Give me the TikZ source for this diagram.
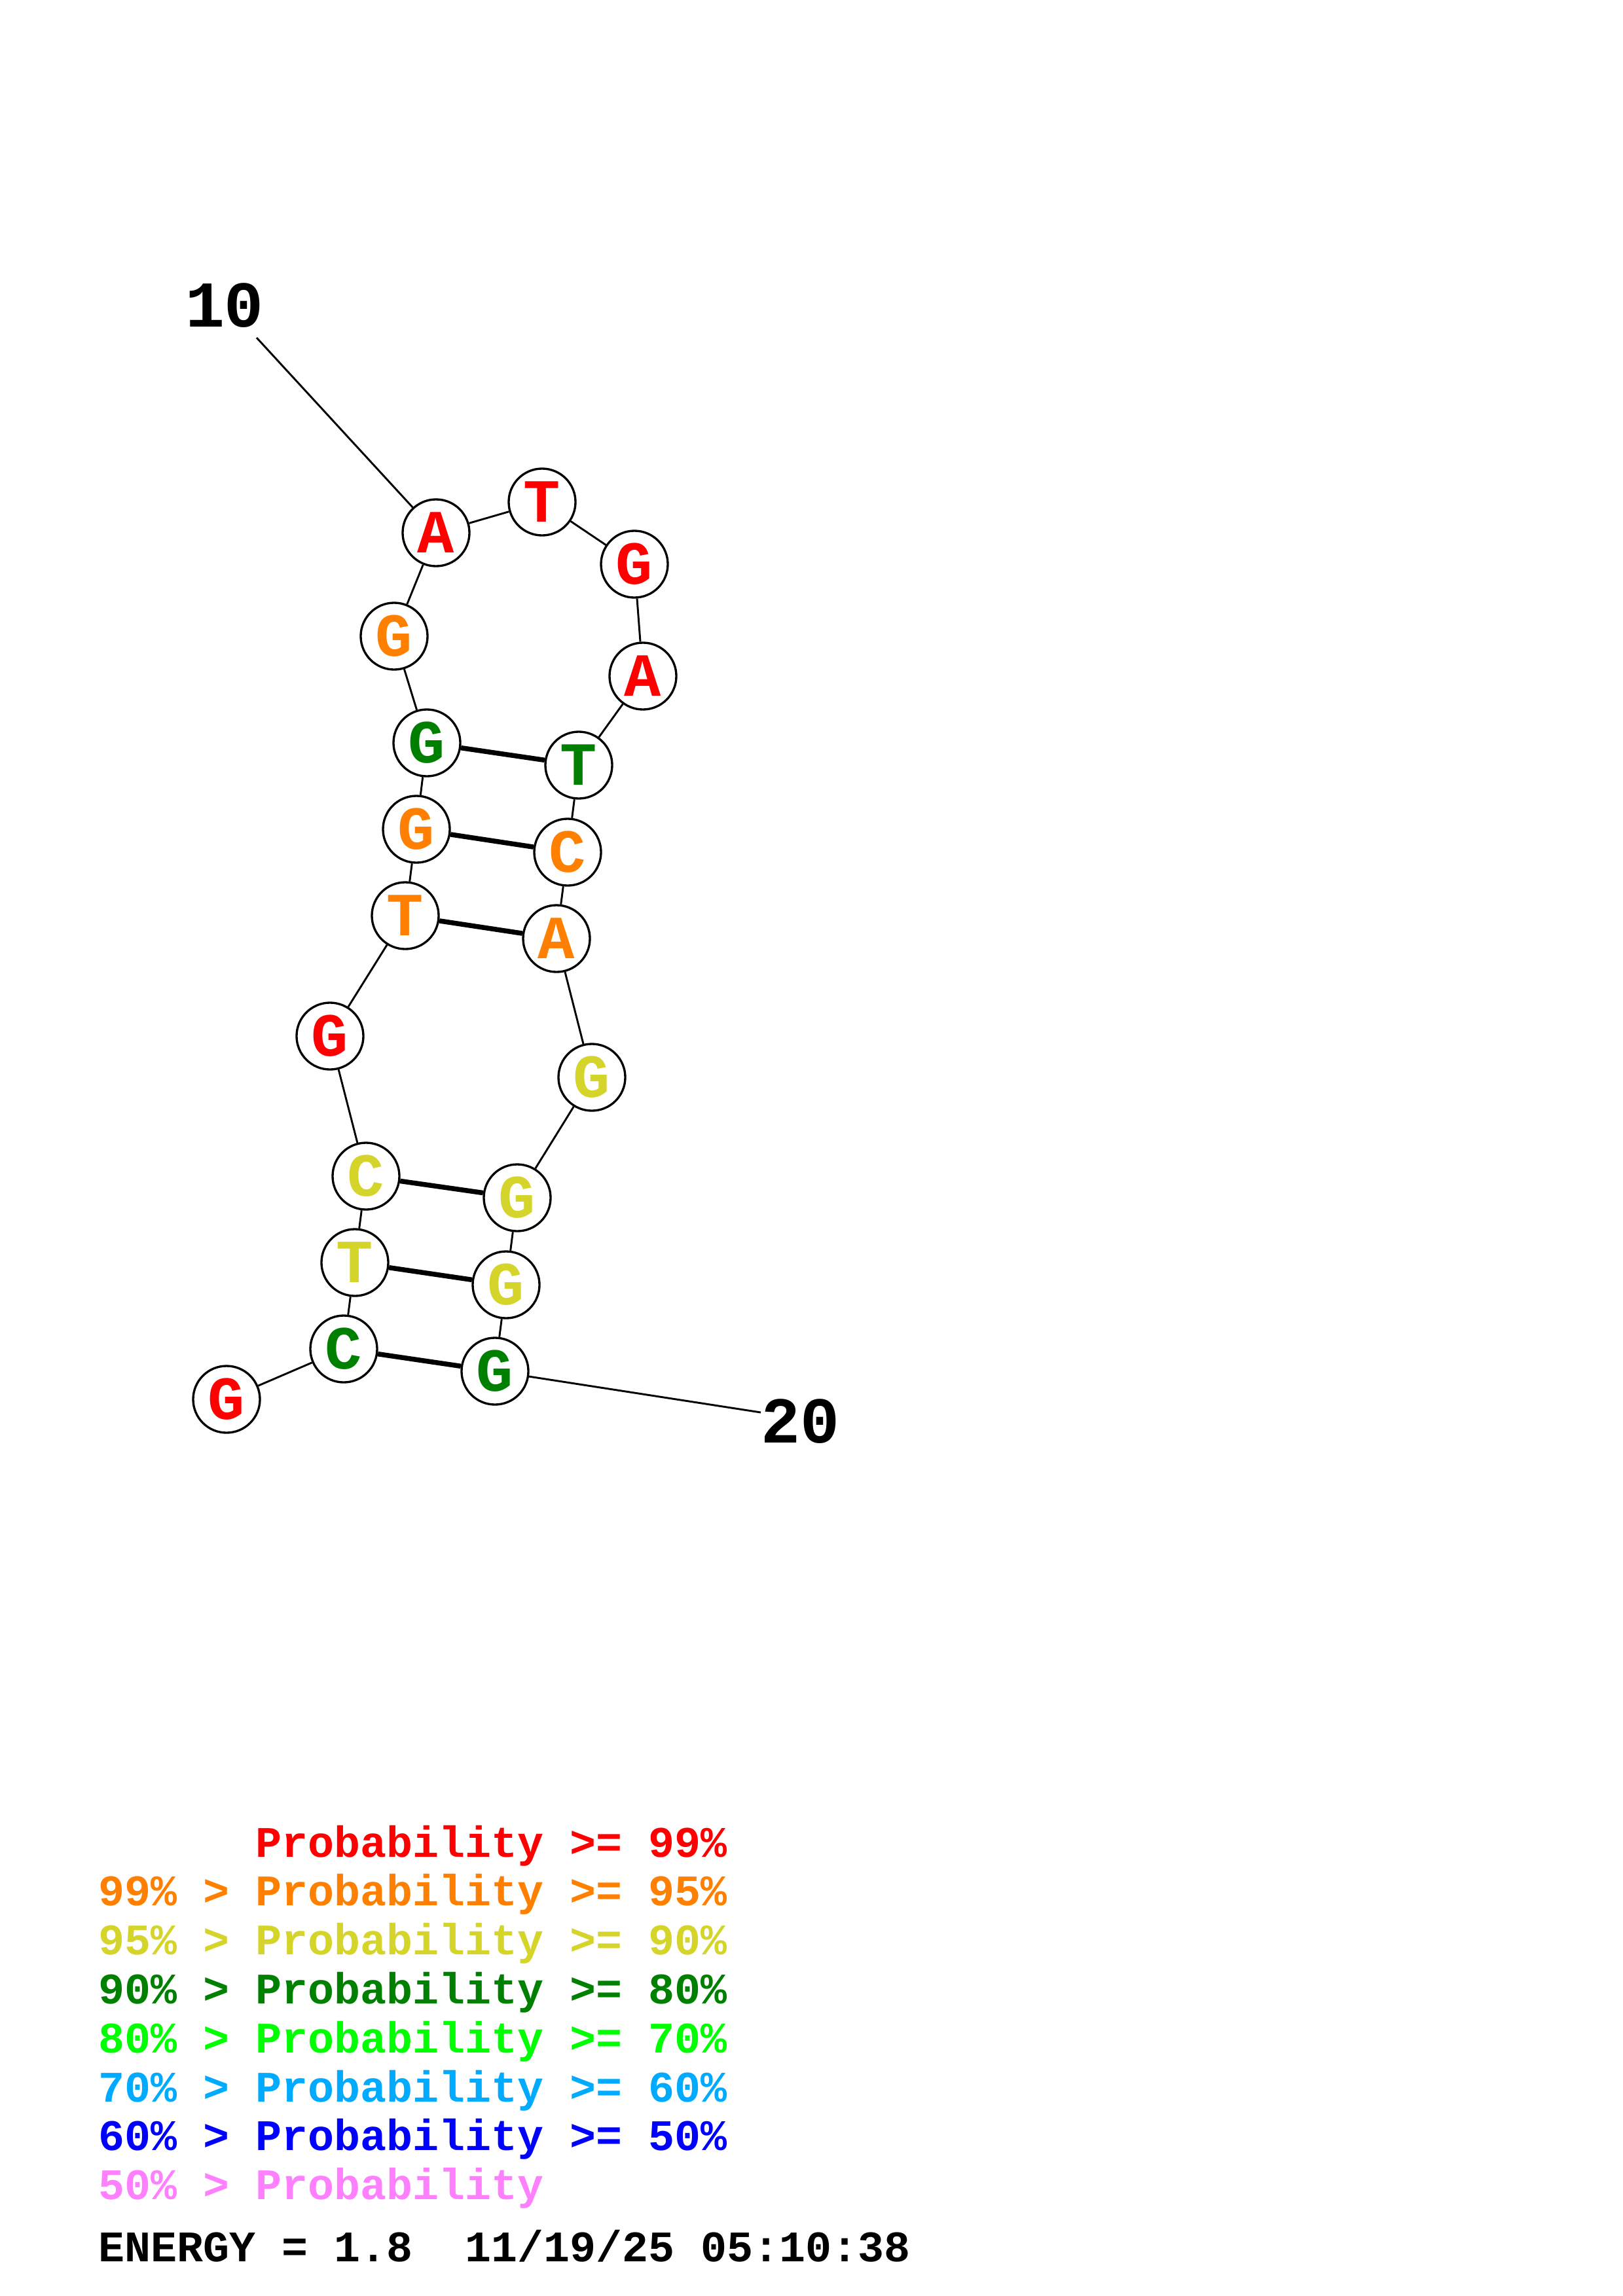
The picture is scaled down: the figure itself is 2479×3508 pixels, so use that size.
\documentclass[tikz,border=0pt]{standalone}
\usepackage{fontspec}
\newfontfamily\seqfont{Liberation Mono}
\definecolor{pred}{RGB}{255,0,0}
\definecolor{porange}{RGB}{255,128,0}
\definecolor{pyellow}{RGB}{212,212,42}
\definecolor{pgreen}{RGB}{0,128,0}
\definecolor{plime}{RGB}{0,255,0}
\definecolor{psky}{RGB}{0,170,255}
\definecolor{pblue}{RGB}{0,0,255}
\definecolor{ppink}{RGB}{255,128,255}
\begin{document}
\begin{tikzpicture}[x=0.24013pt, y=-0.24013pt,
    base/.style={shape=circle, draw=black, line width=0.8pt, fill=white, minimum size=24.5pt, inner sep=0pt,
        font=\seqfont\bfseries\fontsize{22.5pt}{22.5pt}\selectfont},
    link/.style={draw=black, line width=0.7pt},
    pair/.style={draw=black, line width=1.8pt},
    numlabel/.style={inner sep=0pt, font=\seqfont\bfseries\fontsize{24pt}{24pt}\selectfont},
    legend/.style={inner sep=0pt, anchor=base west, font=\seqfont\bfseries\fontsize{16pt}{16pt}\selectfont}]
    \useasboundingbox (0,0) rectangle (2479,3508);

    \foreach \i/\x/\y/\b/\c in {1/346/2138/G/pred, 2/525/2061/C/pgreen, 3/542/1929/T/pyellow,
        4/559/1797/C/pyellow, 5/504/1583/G/pred, 6/619/1399/T/porange, 7/636/1267/G/porange,
        8/652/1135/G/pgreen, 9/602/972/G/porange, 10/666/814/A/pred, 11/828/767/T/pred,
        12/969/862/G/pred, 13/982/1033/A/pred, 14/884/1169/T/pgreen, 15/867/1302/C/porange,
        16/850/1434/A/porange, 17/904/1646/G/pyellow, 18/790/1830/G/pyellow,
        19/773/1963/G/pyellow, 20/756/2095/G/pgreen}
        \node[base, text=\c] (n\i) at (\x,\y) {\b};
    \foreach \i [evaluate=\i as \j using int(\i+1)] in {1,...,19}
        \draw [link] (n\i) to (n\j);
    \foreach \a/\b in {2/20, 3/19, 4/18, 6/16, 7/15, 8/14}
        \draw [pair] (n\a) to (n\b);

    \node[numlabel] (l10) at (343,467) {10};
    \node[numlabel] (l20) at (1222,2172) {20};
    \coordinate (e10) at (392,516);
    \coordinate (e20) at (1162,2158);
    \draw [link] (e10) to (n10);
    \draw [link] (n20) to (e20);

    \foreach \k/\c/\t in {0/pred/{\phantom{99\% > }Probability >= 99\%},
        1/porange/{99\% > Probability >= 95\%}, 2/pyellow/{95\% > Probability >= 90\%},
        3/pgreen/{90\% > Probability >= 80\%}, 4/plime/{80\% > Probability >= 70\%},
        5/psky/{70\% > Probability >= 60\%}, 6/pblue/{60\% > Probability >= 50\%},
        7/ppink/{50\% > Probability}}
        \node[legend, text=\c] (leg\k) at (150,{2837+74.8*\k}) {\t};
    \node[legend] (energy) at (150,3455) {ENERGY = 1.8~ 11/19/25 05:10:38};
\end{tikzpicture}
\end{document}
